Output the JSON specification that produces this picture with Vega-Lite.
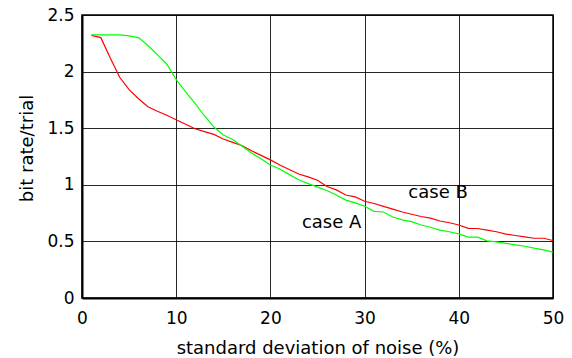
{
  "$schema": "https://vega.github.io/schema/vega-lite/v6.json",
  "width": 471,
  "height": 283,
  "autosize": {"type": "none"},
  "padding": {"left": 82, "top": 15, "right": 19, "bottom": 60},
  "background": "white",
  "config": {
    "view": {"stroke": "black", "strokeWidth": 1.5},
    "font": "DejaVu Sans"
  },
  "datasets": {
    "curves": [
      {"x":1,"y":2.32,"s":"B"},{"x":2,"y":2.30,"s":"B"},{"x":3,"y":2.12,"s":"B"},{"x":4,"y":1.95,"s":"B"},{"x":5,"y":1.84,"s":"B"},
      {"x":6,"y":1.76,"s":"B"},{"x":7,"y":1.69,"s":"B"},{"x":8,"y":1.65,"s":"B"},{"x":9,"y":1.615,"s":"B"},{"x":10,"y":1.575,"s":"B"},
      {"x":11,"y":1.535,"s":"B"},{"x":12,"y":1.495,"s":"B"},{"x":13,"y":1.47,"s":"B"},{"x":14,"y":1.445,"s":"B"},{"x":15,"y":1.405,"s":"B"},
      {"x":16,"y":1.375,"s":"B"},{"x":17,"y":1.345,"s":"B"},{"x":18,"y":1.30,"s":"B"},{"x":19,"y":1.26,"s":"B"},{"x":20,"y":1.22,"s":"B"},
      {"x":21,"y":1.175,"s":"B"},{"x":22,"y":1.135,"s":"B"},{"x":23,"y":1.095,"s":"B"},{"x":24,"y":1.07,"s":"B"},{"x":25,"y":1.04,"s":"B"},
      {"x":26,"y":0.985,"s":"B"},{"x":27,"y":0.955,"s":"B"},{"x":28,"y":0.91,"s":"B"},{"x":29,"y":0.893,"s":"B"},{"x":30,"y":0.855,"s":"B"},
      {"x":31,"y":0.835,"s":"B"},{"x":32,"y":0.81,"s":"B"},{"x":33,"y":0.785,"s":"B"},{"x":34,"y":0.76,"s":"B"},{"x":35,"y":0.74,"s":"B"},
      {"x":36,"y":0.72,"s":"B"},{"x":37,"y":0.705,"s":"B"},{"x":38,"y":0.68,"s":"B"},{"x":39,"y":0.665,"s":"B"},{"x":40,"y":0.645,"s":"B"},
      {"x":41,"y":0.615,"s":"B"},{"x":42,"y":0.614,"s":"B"},{"x":43,"y":0.60,"s":"B"},{"x":44,"y":0.585,"s":"B"},{"x":45,"y":0.565,"s":"B"},
      {"x":46,"y":0.552,"s":"B"},{"x":47,"y":0.54,"s":"B"},{"x":48,"y":0.528,"s":"B"},{"x":49,"y":0.528,"s":"B"},{"x":50,"y":0.508,"s":"B"},
      {"x":1,"y":2.325,"s":"A"},{"x":2,"y":2.325,"s":"A"},{"x":3,"y":2.325,"s":"A"},{"x":4,"y":2.325,"s":"A"},{"x":5,"y":2.315,"s":"A"},
      {"x":6,"y":2.30,"s":"A"},{"x":7,"y":2.23,"s":"A"},{"x":8,"y":2.15,"s":"A"},{"x":9,"y":2.065,"s":"A"},{"x":10,"y":1.93,"s":"A"},
      {"x":11,"y":1.82,"s":"A"},{"x":12,"y":1.72,"s":"A"},{"x":13,"y":1.61,"s":"A"},{"x":14,"y":1.51,"s":"A"},{"x":15,"y":1.44,"s":"A"},
      {"x":16,"y":1.40,"s":"A"},{"x":17,"y":1.34,"s":"A"},{"x":18,"y":1.28,"s":"A"},{"x":19,"y":1.23,"s":"A"},{"x":20,"y":1.175,"s":"A"},
      {"x":21,"y":1.14,"s":"A"},{"x":22,"y":1.09,"s":"A"},{"x":23,"y":1.045,"s":"A"},{"x":24,"y":1.01,"s":"A"},{"x":25,"y":0.98,"s":"A"},
      {"x":26,"y":0.95,"s":"A"},{"x":27,"y":0.91,"s":"A"},{"x":28,"y":0.865,"s":"A"},{"x":29,"y":0.84,"s":"A"},{"x":30,"y":0.81,"s":"A"},
      {"x":31,"y":0.765,"s":"A"},{"x":32,"y":0.76,"s":"A"},{"x":33,"y":0.715,"s":"A"},{"x":34,"y":0.69,"s":"A"},{"x":35,"y":0.675,"s":"A"},
      {"x":36,"y":0.645,"s":"A"},{"x":37,"y":0.625,"s":"A"},{"x":38,"y":0.60,"s":"A"},{"x":39,"y":0.585,"s":"A"},{"x":40,"y":0.567,"s":"A"},
      {"x":41,"y":0.538,"s":"A"},{"x":42,"y":0.538,"s":"A"},{"x":43,"y":0.505,"s":"A"},{"x":44,"y":0.495,"s":"A"},{"x":45,"y":0.483,"s":"A"},
      {"x":46,"y":0.47,"s":"A"},{"x":47,"y":0.457,"s":"A"},{"x":48,"y":0.44,"s":"A"},{"x":49,"y":0.425,"s":"A"},{"x":50,"y":0.405,"s":"A"}
    ],
    "labels": [
      {"x": 37.8, "y": 0.882, "t": "case B"},
      {"x": 26.5, "y": 0.617, "t": "case A"}
    ]
  },
  "layer": [
    {
      "data": {"name": "curves"},
      "mark": {"type": "line", "strokeWidth": 1.2, "clip": true},
      "encoding": {
        "x": {
          "field": "x", "type": "quantitative",
          "scale": {"domain": [0, 50], "nice": false, "zero": false},
          "axis": {
            "values": [0, 10, 20, 30, 40, 50],
            "title": "standard deviation of noise (%)",
            "grid": true, "gridColor": "black", "gridOpacity": 0.85, "gridWidth": 1,
            "ticks": false, "tickSize": 0,
            "domainColor": "black", "domainWidth": 2,
            "labelFont": "DejaVu Sans", "labelFontSize": 17, "labelColor": "black",
            "labelPadding": 12, "labelFlush": false,
            "titleFont": "DejaVu Sans", "titleFontSize": 18, "titleFontWeight": "normal", "titleColor": "black",
            "titleBaseline": "alphabetic", "titleY": 55
          }
        },
        "y": {
          "field": "y", "type": "quantitative",
          "scale": {"domain": [0, 2.5], "nice": false, "zero": true},
          "axis": {
            "values": [0, 0.5, 1, 1.5, 2, 2.5],
            "format": "~g",
            "title": "bit rate/trial",
            "grid": true, "gridColor": "black", "gridOpacity": 0.85, "gridWidth": 1,
            "ticks": false, "tickSize": 0,
            "domainColor": "black", "domainWidth": 2,
            "labelFont": "DejaVu Sans", "labelFontSize": 17, "labelColor": "black",
            "labelPadding": 8, "labelFlush": false,
            "titleFont": "DejaVu Sans", "titleFontSize": 18, "titleFontWeight": "normal", "titleColor": "black",
            "titleBaseline": "alphabetic", "titleX": -50, "titleY": 133, "titleAngle": -90
          }
        },
        "color": {
          "field": "s", "type": "nominal",
          "scale": {"domain": ["A", "B"], "range": ["#00ff00", "#ff0000"]},
          "legend": null
        },
        "order": {"field": "x", "type": "quantitative"}
      }
    },
    {
      "data": {"name": "labels"},
      "mark": {"type": "text", "font": "DejaVu Sans", "fontSize": 18, "color": "black", "align": "center", "baseline": "alphabetic"},
      "encoding": {
        "x": {"field": "x", "type": "quantitative"},
        "y": {"field": "y", "type": "quantitative"},
        "text": {"field": "t"}
      }
    }
  ]
}
